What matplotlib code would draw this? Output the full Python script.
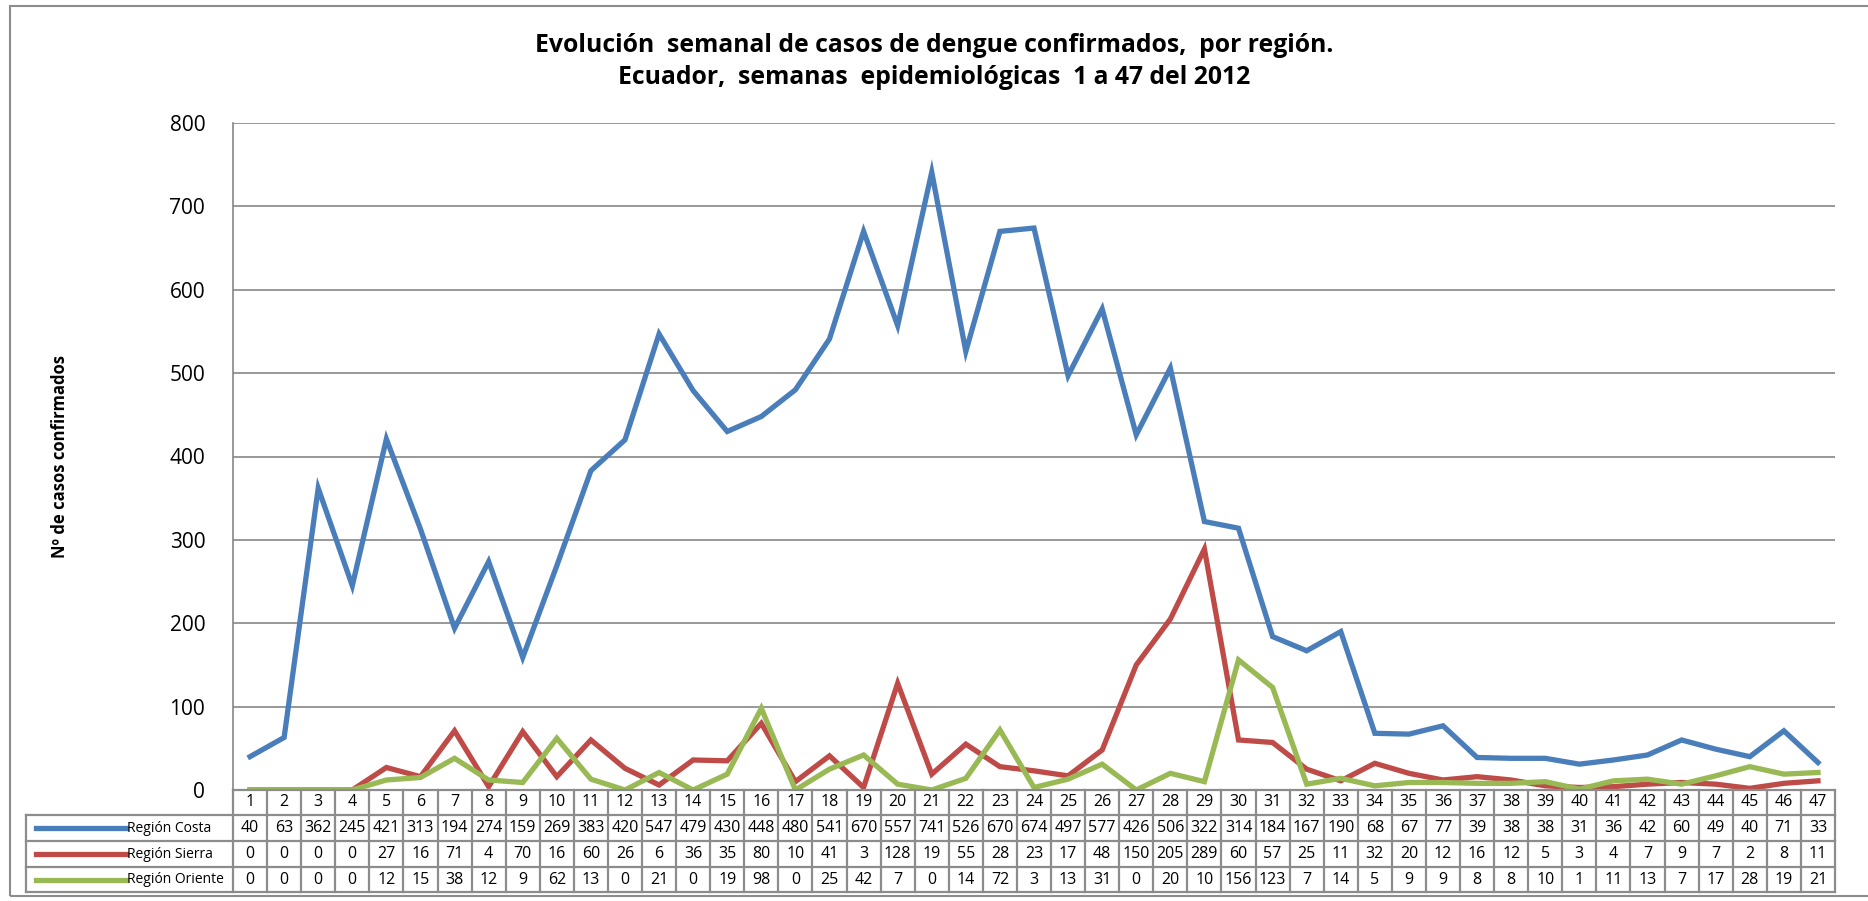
import matplotlib
matplotlib.use("Agg")
import matplotlib.pyplot as plt
from matplotlib.patches import Rectangle
import matplotlib.transforms as mtransforms

# 数据
semanas = list(range(1, 48))
costa = [40, 63, 362, 245, 421, 313, 194, 274, 159, 269, 383, 420, 547, 479, 430, 448,
         480, 541, 670, 557, 741, 526, 670, 674, 497, 577, 426, 506, 322, 314, 184, 167,
         190, 68, 67, 77, 39, 38, 38, 31, 36, 42, 60, 49, 40, 71, 33]
sierra = [0, 0, 0, 0, 27, 16, 71, 4, 70, 16, 60, 26, 6, 36, 35, 80, 10, 41, 3, 128, 19,
          55, 28, 23, 17, 48, 150, 205, 289, 60, 57, 25, 11, 32, 20, 12, 16, 12, 5, 3, 4,
          7, 9, 7, 2, 8, 11]
oriente = [0, 0, 0, 0, 12, 15, 38, 12, 9, 62, 13, 0, 21, 0, 19, 98, 0, 25, 42, 7, 0, 14,
           72, 3, 13, 31, 0, 20, 10, 156, 123, 7, 14, 5, 9, 9, 8, 8, 10, 1, 11, 13, 7, 17,
           28, 19, 21]
series = [("Región Costa", costa, "#4A7EBB"),
          ("Región Sierra", sierra, "#BE4B48"),
          ("Región Oriente", oriente, "#98B954")]

plt.rcParams['font.family'] = ['Open Sans', 'DejaVu Sans']

W, H = 1868, 901
fig = plt.figure(figsize=(W / 100, H / 100), dpi=100)

# 坐标区位置（像素）
left_px, right_px, top_px, bottom_px = 233, 1835, 123, 790
ax = fig.add_axes([left_px / W, 1 - bottom_px / H, (right_px - left_px) / W,
                   (bottom_px - top_px) / H])

for name, vals, col in series:
    ax.plot(semanas, vals, color=col, linewidth=3.8, solid_joinstyle='miter')

ax.set_xlim(0.5, 47.5)
ax.set_ylim(0, 800)
ax.set_yticks(range(0, 801, 100))
ax.tick_params(axis='y', labelsize=15, length=0, pad=20)
ax.set_xticks([])
ax.grid(axis='y', color='#868686', linewidth=1.2)
ax.set_axisbelow(True)
for s in ['top', 'right', 'bottom']:
    ax.spines[s].set_visible(False)
ax.spines['left'].set_color('#868686')
ax.spines['left'].set_linewidth(1.2)

fig.text(60 / W, 1 - 457 / H, "Nº de casos confirmados", rotation=90, ha='center',
         va='center', fontsize=12, fontweight='bold')

fig.text(0.5, 1 - 45 / H, "Evolución  semanal de casos de dengue confirmados,  por región.",
         ha='center', va='center', fontsize=17.8, fontweight='bold')
fig.text(0.5, 1 - 77 / H, "Ecuador,  semanas  epidemiológicas  1 a 47 del 2012",
         ha='center', va='center', fontsize=17.8, fontweight='bold')

# 数据表
row_edges = [790, 815, 841, 867, 892]
legend_left = 26
gcol = '#8C8C8C'
yf = lambda p: 1 - p / H
trans = mtransforms.blended_transform_factory(ax.transData, fig.transFigure)

# 横线
for i, yp in enumerate(row_edges):
    if i == 0:
        ax.plot([0.5, 47.5], [yf(yp)] * 2, transform=trans, color=gcol, lw=1.6,
                clip_on=False)
    else:
        fig.add_artist(plt.Line2D([legend_left / W, right_px / W], [yf(yp)] * 2,
                                  color=gcol, lw=1.6))
# 竖线
for k in range(48):
    ax.plot([k + 0.5] * 2, [yf(row_edges[0]), yf(row_edges[-1])], transform=trans,
            color=gcol, lw=1.6, clip_on=False)
fig.add_artist(plt.Line2D([legend_left / W] * 2, [yf(row_edges[1]), yf(row_edges[-1])],
                          color=gcol, lw=1.6))

# 表头
yc = (yf(row_edges[0]) + yf(row_edges[1])) / 2
for s in semanas:
    ax.text(s, yc, str(s), transform=trans, ha='center', va='center', fontsize=11.5)

for r, (name, vals, col) in enumerate(series):
    yc = (yf(row_edges[r + 1]) + yf(row_edges[r + 2])) / 2
    for s, v in zip(semanas, vals):
        ax.text(s, yc, str(v), transform=trans, ha='center', va='center', fontsize=11.5)
    fig.add_artist(plt.Line2D([36 / W, 126 / W], [yc, yc], color=col, lw=3.8))
    fig.text(127 / W, yc, name, ha='left', va='center', fontsize=10)

# 外框
fig.add_artist(Rectangle((10 / W, 1 - 896 / H), 1.05, (896 - 6) / H, fill=False,
                         edgecolor='#8C8C8C', lw=1.5, transform=fig.transFigure))

fig.savefig("out.png", dpi=100)
